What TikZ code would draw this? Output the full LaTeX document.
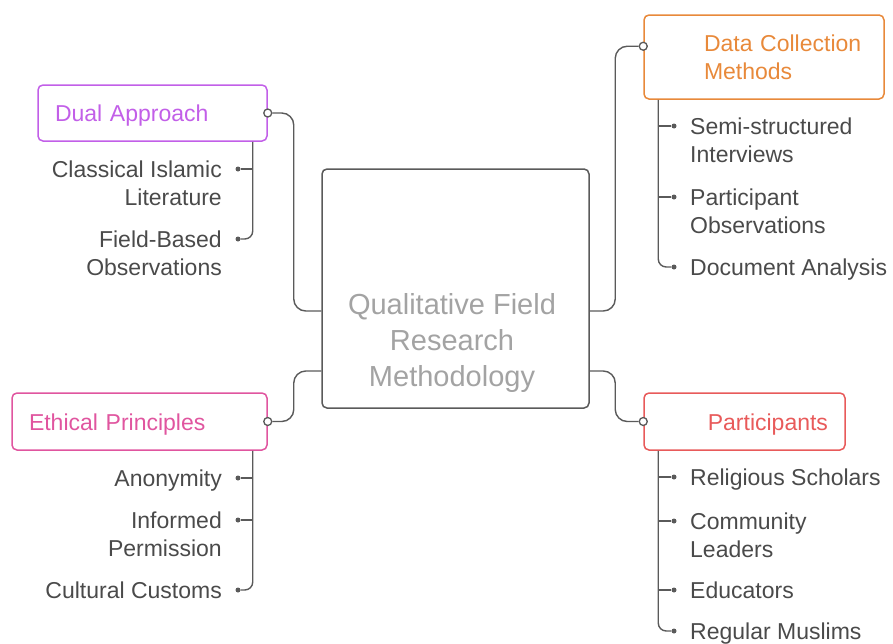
\documentclass[tikz,border=0pt]{standalone}
\usepackage{fontspec}
\setmainfont{Liberation Sans}
\usetikzlibrary{calc}
\definecolor{linegray}{HTML}{5A5A5A}
\definecolor{leafgray}{HTML}{4A4A4A}
\definecolor{titlegray}{HTML}{A3A3A3}
\definecolor{dualpurple}{HTML}{C25FE8}
\definecolor{dataorange}{HTML}{E8893A}
\definecolor{ethicspink}{HTML}{E0559F}
\definecolor{partred}{HTML}{E85A5A}
\def\twolines#1{\raisebox{-3pt}[\height][\depth]{\begin{tabular}{@{}l@{}}#1\end{tabular}}}

\tikzset{
	link/.style={draw=linegray, line width=1.4pt, rounded corners=12pt},
	twig/.style={draw=linegray, line width=1.4pt, rounded corners=8pt},
	hub/.style={circle, draw=linegray, fill=white, line width=1.3pt, inner sep=0pt, minimum size=8pt},
	tip/.style={circle, fill=linegray, inner sep=0pt, minimum size=5pt},
	branch/.style={draw=#1, text=#1, line width=1.5pt, rounded corners=5pt, inner xsep=17pt, inner ysep=0pt, font=\fontsize{23}{28}\selectfont},
	oneline/.style={text height=17pt, text depth=0pt},
	leaf/.style={text=leafgray, inner sep=0pt, font=\fontsize{23}{28}\selectfont},
}

\begin{document}
\begin{tikzpicture}[x=1pt, y=-1pt]
		%%%%% START %%%%%
		\useasboundingbox (0,0) rectangle (893,643);
		
		\node[draw=linegray, line width=1.5pt, rounded corners=5pt, minimum width=267pt, minimum height=239pt] (centre) at (455.5,288.5) {};
		\node[text=titlegray, align=center, font=\fontsize{29}{36}\selectfont] (title) at (452,343) {Qualitative Field\\Research\\Methodology};
		
		\node[branch=dualpurple, oneline, text width=195pt, align=left, minimum height=56pt] (dual) at (152.5,113) {Dual Approach};
		\node[branch=ethicspink, oneline, text width=221pt, align=left, minimum height=57pt] (ethics) at (139.5,421.5) {Ethical Principles};
		\node[branch=dataorange, text width=206pt, align=left, minimum height=84pt] (data) at (764,57) {\hspace*{43pt}\twolines{Data Collection\\Methods}};
		\node[branch=partred, oneline, text width=167pt, align=right, minimum height=57pt] (parts) at (744.5,421.5) {Participants};
		
		\node[hub] (dualhub) at (dual.east) {};
		\node[hub] (ethicshub) at (ethics.east) {};
		\node[hub] (datahub) at ($(data.north west)+(0,32)$) {};
		\node[hub] (partshub) at (parts.west) {};
		
		\draw[link] (dualhub) -- ++(26,0) |- ($(centre.west)+(0,22.5)$);
		\draw[link] (ethicshub) -- ++(26,0) |- ($(centre.west)+(0,82.5)$);
		\draw[link] (datahub) -- ++(-28,0) |- ($(centre.east)+(0,22.5)$);
		\draw[link] (partshub) -- ++(-28,0) |- ($(centre.east)+(0,82.5)$);
		
		% dual approach
		\coordinate (dualroot) at ($(dual.south east)+(-15,0)$);
		\node[tip] (dt1) at (238,169) {};
		\node[tip] (dt2) at (238,239) {};
		\draw[twig] (dualroot) |- (dt2);
		\draw[twig] (dt1) -- (dt1 -| dualroot);
		\node[leaf, align=right, anchor=north east] (dl1) at ($(dt1)+(-16,-11.6)$) {\strut Classical Islamic\\Literature};
		\node[leaf, align=right, anchor=north east] (dl2) at ($(dt2)+(-16,-11.6)$) {\strut Field-Based\\Observations};
		
		% ethical principles
		\coordinate (ethicsroot) at ($(ethics.south east)+(-15,0)$);
		\node[tip] (et1) at (238,478) {};
		\node[tip] (et2) at (238,520) {};
		\node[tip] (et3) at (238,590) {};
		\draw[twig] (ethicsroot) |- (et3);
		\draw[twig] (et1) -- (et1 -| ethicsroot);
		\draw[twig] (et2) -- (et2 -| ethicsroot);
		\node[leaf, align=right, anchor=north east] (el1) at ($(et1)+(-16,-11.6)$) {\strut Anonymity};
		\node[leaf, align=right, anchor=north east] (el2) at ($(et2)+(-16,-11.6)$) {\strut Informed\\Permission};
		\node[leaf, align=right, anchor=north east] (el3) at ($(et3)+(-16,-11.6)$) {\strut Cultural Customs};
		
		% data collection methods
		\coordinate (dataroot) at ($(data.south west)+(15,0)$);
		\node[tip] (mt1) at (674,126) {};
		\node[tip] (mt2) at (674,197) {};
		\node[tip] (mt3) at (674,267) {};
		\draw[twig] (dataroot) |- (mt3);
		\draw[twig] (mt1) -- (mt1 -| dataroot);
		\draw[twig] (mt2) -- (mt2 -| dataroot);
		\node[leaf, align=left, anchor=north west] (ml1) at ($(mt1)+(16,-11.6)$) {\strut Semi-structured\\Interviews};
		\node[leaf, align=left, anchor=north west] (ml2) at ($(mt2)+(16,-11.6)$) {\strut Participant\\Observations};
		\node[leaf, align=left, anchor=north west] (ml3) at ($(mt3)+(16,-11.6)$) {\strut Document Analysis};
		
		% participants
		\coordinate (partsroot) at ($(parts.south west)+(15,0)$);
		\node[tip] (pt1) at (674,477) {};
		\node[tip] (pt2) at (674,521) {};
		\node[tip] (pt3) at (674,590) {};
		\node[tip] (pt4) at (674,631) {};
		\draw[twig] (partsroot) |- (pt4);
		\draw[twig] (pt1) -- (pt1 -| partsroot);
		\draw[twig] (pt2) -- (pt2 -| partsroot);
		\draw[twig] (pt3) -- (pt3 -| partsroot);
		\node[leaf, align=left, anchor=north west] (pl1) at ($(pt1)+(16,-11.6)$) {\strut Religious Scholars};
		\node[leaf, align=left, anchor=north west] (pl2) at ($(pt2)+(16,-11.6)$) {\strut Community\\Leaders};
		\node[leaf, align=left, anchor=north west] (pl3) at ($(pt3)+(16,-11.6)$) {\strut Educators};
		\node[leaf, align=left, anchor=north west] (pl4) at ($(pt4)+(16,-11.6)$) {\strut Regular Muslims};
		
		%%%%% END %%%%%
\end{tikzpicture}
\end{document}
